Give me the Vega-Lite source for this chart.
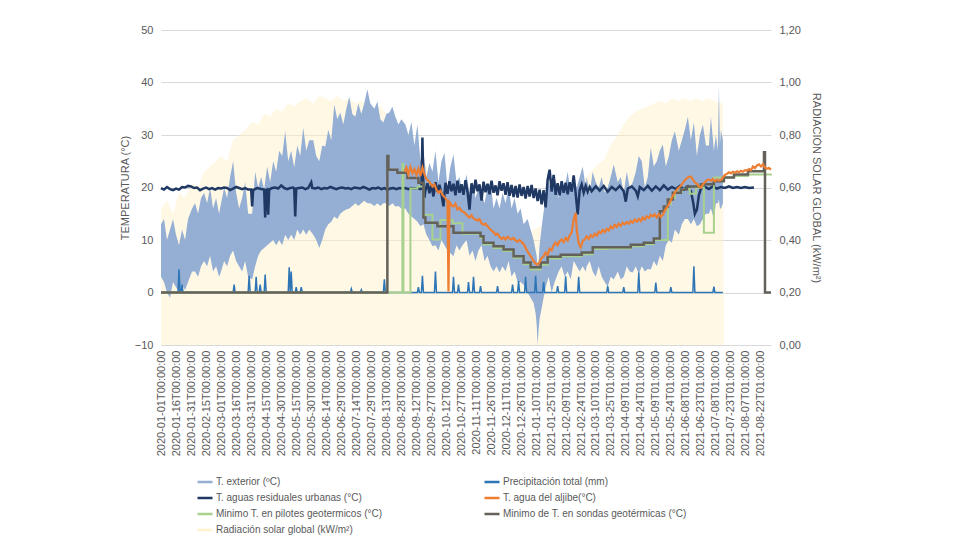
{
"$schema": "https://vega.github.io/schema/vega-lite/v6.json",
"width": 610, "height": 315,
"padding": {"left": 119, "top": 24, "right": 0, "bottom": 0},
"autosize": {"type": "pad"},
"background": "white",
"config": {
 "view": {"stroke": null},
 "font": "Liberation Sans",
 "axis": {"labelColor": "#595959", "titleColor": "#595959", "labelFontSize": 11, "titleFontSize": 11, "titleFontWeight": "normal", "domain": false, "ticks": false, "labelFont": "Liberation Sans", "titleFont": "Liberation Sans"},
 "legend": {"columns": 2, "symbolType": "stroke", "symbolSize": 225, "symbolStrokeWidth": 2.5, "labelFontSize": 10, "labelColor": "#595959", "labelFont": "Liberation Sans", "labelOffset": 2, "rowPadding": 2, "columnPadding": 96, "labelLimit": 400}
},
"datasets": {
 "rad": [
  {"d":"2020-01-01","v":0.52},{"d":"2020-01-07","v":0.55},{"d":"2020-01-13","v":0.5},{"d":"2020-01-19","v":0.58},{"d":"2020-01-25","v":0.56},
  {"d":"2020-02-01","v":0.62},{"d":"2020-02-07","v":0.6},{"d":"2020-02-13","v":0.66},{"d":"2020-02-19","v":0.68},{"d":"2020-02-25","v":0.7},
  {"d":"2020-03-01","v":0.72},{"d":"2020-03-07","v":0.7},{"d":"2020-03-13","v":0.78},{"d":"2020-03-19","v":0.8},{"d":"2020-03-25","v":0.82},
  {"d":"2020-04-01","v":0.85},{"d":"2020-04-07","v":0.84},{"d":"2020-04-13","v":0.88},{"d":"2020-04-19","v":0.87},{"d":"2020-04-25","v":0.9},
  {"d":"2020-05-01","v":0.89},{"d":"2020-05-07","v":0.92},{"d":"2020-05-13","v":0.91},{"d":"2020-05-19","v":0.93},{"d":"2020-05-25","v":0.94},
  {"d":"2020-06-01","v":0.92},{"d":"2020-06-07","v":0.95},{"d":"2020-06-13","v":0.94},{"d":"2020-06-19","v":0.93},{"d":"2020-06-25","v":0.95},
  {"d":"2020-07-01","v":0.93},{"d":"2020-07-07","v":0.94},{"d":"2020-07-13","v":0.92},{"d":"2020-07-19","v":0.93},{"d":"2020-07-25","v":0.92},
  {"d":"2020-08-01","v":0.9},{"d":"2020-08-07","v":0.91},{"d":"2020-08-13","v":0.88},{"d":"2020-08-19","v":0.84},{"d":"2020-08-25","v":0.8},
  {"d":"2020-09-01","v":0.76},{"d":"2020-09-07","v":0.74},{"d":"2020-09-13","v":0.72},{"d":"2020-09-19","v":0.7},{"d":"2020-09-25","v":0.66},
  {"d":"2020-10-01","v":0.64},{"d":"2020-10-07","v":0.6},{"d":"2020-10-13","v":0.58},{"d":"2020-10-19","v":0.56},{"d":"2020-10-25","v":0.55},
  {"d":"2020-11-01","v":0.52},{"d":"2020-11-07","v":0.5},{"d":"2020-11-13","v":0.48},{"d":"2020-11-19","v":0.47},{"d":"2020-11-25","v":0.46},
  {"d":"2020-12-01","v":0.45},{"d":"2020-12-07","v":0.44},{"d":"2020-12-13","v":0.43},{"d":"2020-12-19","v":0.42},{"d":"2020-12-25","v":0.42},
  {"d":"2021-01-01","v":0.43},{"d":"2021-01-07","v":0.44},{"d":"2021-01-13","v":0.45},{"d":"2021-01-19","v":0.47},{"d":"2021-01-25","v":0.5},
  {"d":"2021-02-01","v":0.52},{"d":"2021-02-07","v":0.54},{"d":"2021-02-13","v":0.57},{"d":"2021-02-19","v":0.59},{"d":"2021-02-25","v":0.62},
  {"d":"2021-03-01","v":0.64},{"d":"2021-03-07","v":0.67},{"d":"2021-03-13","v":0.69},{"d":"2021-03-19","v":0.71},{"d":"2021-03-25","v":0.76},
  {"d":"2021-04-01","v":0.8},{"d":"2021-04-07","v":0.84},{"d":"2021-04-13","v":0.87},{"d":"2021-04-19","v":0.89},{"d":"2021-04-25","v":0.9},
  {"d":"2021-05-01","v":0.91},{"d":"2021-05-07","v":0.92},{"d":"2021-05-13","v":0.93},{"d":"2021-05-19","v":0.92},{"d":"2021-05-25","v":0.94},
  {"d":"2021-06-01","v":0.93},{"d":"2021-06-07","v":0.94},{"d":"2021-06-13","v":0.93},{"d":"2021-06-19","v":0.94},{"d":"2021-06-25","v":0.93},
  {"d":"2021-07-01","v":0.94},{"d":"2021-07-07","v":0.93},{"d":"2021-07-15","v":0.92},{"d":"2021-07-16","v":0}
 ],
 "ext": [
  {"d":"2020-01-01","v":3,"v2":13},{"d":"2020-01-04","v":2,"v2":14},{"d":"2020-01-07","v":0,"v2":10},{"d":"2020-01-10","v":-1,"v2":12},{"d":"2020-01-13","v":2,"v2":14},{"d":"2020-01-16","v":1,"v2":11},{"d":"2020-01-19","v":0,"v2":9},{"d":"2020-01-22","v":1.5,"v2":12},{"d":"2020-01-25","v":0.5,"v2":10},{"d":"2020-01-28","v":2,"v2":14},
  {"d":"2020-02-01","v":4,"v2":16},{"d":"2020-02-04","v":4,"v2":17},{"d":"2020-02-07","v":3,"v2":15},{"d":"2020-02-10","v":5,"v2":18},{"d":"2020-02-13","v":6,"v2":19},{"d":"2020-02-16","v":5,"v2":17},{"d":"2020-02-19","v":7,"v2":20},{"d":"2020-02-22","v":4,"v2":16},{"d":"2020-02-25","v":5,"v2":18},{"d":"2020-02-28","v":3,"v2":15},
  {"d":"2020-03-01","v":4,"v2":17},{"d":"2020-03-04","v":6,"v2":20},{"d":"2020-03-07","v":5,"v2":18},{"d":"2020-03-10","v":7,"v2":22},{"d":"2020-03-13","v":8,"v2":25},{"d":"2020-03-16","v":6,"v2":19},{"d":"2020-03-19","v":5,"v2":16},{"d":"2020-03-22","v":4,"v2":18},{"d":"2020-03-25","v":6,"v2":21},{"d":"2020-03-28","v":3,"v2":15},
  {"d":"2020-04-01","v":2.5,"v2":15},{"d":"2020-04-04","v":5,"v2":23},{"d":"2020-04-07","v":7,"v2":20},{"d":"2020-04-10","v":8,"v2":22},{"d":"2020-04-13","v":8.5,"v2":19.6},{"d":"2020-04-16","v":9,"v2":24},{"d":"2020-04-19","v":9.5,"v2":21},{"d":"2020-04-22","v":10,"v2":25},{"d":"2020-04-25","v":9,"v2":23},{"d":"2020-04-28","v":10,"v2":27},
  {"d":"2020-05-01","v":9,"v2":26},{"d":"2020-05-04","v":11,"v2":30.7},{"d":"2020-05-07","v":10,"v2":25},{"d":"2020-05-10","v":11,"v2":27},{"d":"2020-05-13","v":10,"v2":23.8},{"d":"2020-05-16","v":12,"v2":28},{"d":"2020-05-19","v":11,"v2":26},{"d":"2020-05-22","v":12,"v2":31.4},{"d":"2020-05-25","v":11,"v2":27},{"d":"2020-05-28","v":12,"v2":29},
  {"d":"2020-06-01","v":11,"v2":29},{"d":"2020-06-04","v":10,"v2":26},{"d":"2020-06-07","v":8.5,"v2":25},{"d":"2020-06-10","v":10,"v2":28},{"d":"2020-06-13","v":12,"v2":27.8},{"d":"2020-06-16","v":13,"v2":31},{"d":"2020-06-19","v":13.5,"v2":29},{"d":"2020-06-22","v":14.5,"v2":35.8},{"d":"2020-06-25","v":14,"v2":33},{"d":"2020-06-28","v":15,"v2":34.3},
  {"d":"2020-07-01","v":15.5,"v2":32},{"d":"2020-07-04","v":15.8,"v2":35},{"d":"2020-07-07","v":16,"v2":37.3},{"d":"2020-07-10","v":16.5,"v2":34},{"d":"2020-07-13","v":17,"v2":33.5},{"d":"2020-07-16","v":16.5,"v2":36},{"d":"2020-07-19","v":17,"v2":34},{"d":"2020-07-22","v":17.5,"v2":36.1},{"d":"2020-07-25","v":17,"v2":38.7},{"d":"2020-07-28","v":17,"v2":36},
  {"d":"2020-08-01","v":16.5,"v2":35},{"d":"2020-08-04","v":17,"v2":36.4},{"d":"2020-08-07","v":16.5,"v2":33},{"d":"2020-08-10","v":17,"v2":32.4},{"d":"2020-08-13","v":17,"v2":34},{"d":"2020-08-16","v":16.5,"v2":34.3},{"d":"2020-08-19","v":17,"v2":35.4},{"d":"2020-08-22","v":16.4,"v2":33.5},{"d":"2020-08-25","v":16.5,"v2":32},{"d":"2020-08-28","v":16,"v2":33},
  {"d":"2020-09-01","v":16,"v2":32},{"d":"2020-09-04","v":15,"v2":30},{"d":"2020-09-07","v":14.5,"v2":32.5},{"d":"2020-09-10","v":14,"v2":28},{"d":"2020-09-13","v":13.5,"v2":32},{"d":"2020-09-16","v":12.6,"v2":25},{"d":"2020-09-19","v":13,"v2":27},{"d":"2020-09-22","v":11,"v2":22},{"d":"2020-09-25","v":10,"v2":24.7},{"d":"2020-09-28","v":8.8,"v2":23},
  {"d":"2020-10-01","v":9,"v2":27},{"d":"2020-10-04","v":8,"v2":21},{"d":"2020-10-07","v":10,"v2":25},{"d":"2020-10-10","v":9,"v2":26.6},{"d":"2020-10-13","v":8,"v2":20},{"d":"2020-10-16","v":7.5,"v2":24},{"d":"2020-10-19","v":6.9,"v2":26.3},{"d":"2020-10-22","v":9,"v2":21},{"d":"2020-10-25","v":8,"v2":22},{"d":"2020-10-28","v":9,"v2":19},
  {"d":"2020-11-01","v":10,"v2":22.5},{"d":"2020-11-04","v":7,"v2":19},{"d":"2020-11-07","v":8,"v2":21},{"d":"2020-11-10","v":6,"v2":18},{"d":"2020-11-13","v":8,"v2":20},{"d":"2020-11-16","v":9,"v2":19},{"d":"2020-11-19","v":6,"v2":17},{"d":"2020-11-22","v":7,"v2":20},{"d":"2020-11-25","v":5,"v2":21},{"d":"2020-11-28","v":4,"v2":16},
  {"d":"2020-12-01","v":5,"v2":18},{"d":"2020-12-04","v":3.8,"v2":16},{"d":"2020-12-07","v":5,"v2":19},{"d":"2020-12-10","v":4,"v2":17},{"d":"2020-12-13","v":6,"v2":20},{"d":"2020-12-16","v":3,"v2":16},{"d":"2020-12-19","v":4,"v2":18},{"d":"2020-12-22","v":2,"v2":15},{"d":"2020-12-25","v":2,"v2":16},{"d":"2020-12-28","v":1.5,"v2":13},
  {"d":"2021-01-01","v":0,"v2":14},{"d":"2021-01-04","v":-1,"v2":12},{"d":"2021-01-07","v":-2,"v2":10},{"d":"2021-01-09","v":-4,"v2":8},{"d":"2021-01-10","v":-6,"v2":7},{"d":"2021-01-11","v":-10,"v2":5},{"d":"2021-01-12","v":-7,"v2":6},{"d":"2021-01-13","v":-5,"v2":9},{"d":"2021-01-16","v":-2,"v2":14},{"d":"2021-01-19","v":1,"v2":18},{"d":"2021-01-22","v":3,"v2":21},{"d":"2021-01-25","v":0,"v2":19},{"d":"2021-01-28","v":2,"v2":22},
  {"d":"2021-02-01","v":4,"v2":18},{"d":"2021-02-04","v":5,"v2":21},{"d":"2021-02-07","v":3,"v2":20},{"d":"2021-02-10","v":4,"v2":23},{"d":"2021-02-13","v":2.5,"v2":19},{"d":"2021-02-16","v":6,"v2":21},{"d":"2021-02-19","v":5,"v2":20},{"d":"2021-02-22","v":4,"v2":22},{"d":"2021-02-25","v":5,"v2":24},{"d":"2021-02-28","v":4,"v2":20},
  {"d":"2021-03-01","v":5,"v2":22},{"d":"2021-03-04","v":6,"v2":19},{"d":"2021-03-07","v":4,"v2":23},{"d":"2021-03-10","v":3,"v2":21},{"d":"2021-03-13","v":5,"v2":20},{"d":"2021-03-16","v":3,"v2":22},{"d":"2021-03-19","v":2,"v2":19},{"d":"2021-03-22","v":1.1,"v2":20},{"d":"2021-03-25","v":3,"v2":22},{"d":"2021-03-28","v":2.5,"v2":24.4},
  {"d":"2021-04-01","v":4,"v2":21},{"d":"2021-04-04","v":2.5,"v2":22},{"d":"2021-04-07","v":3,"v2":19},{"d":"2021-04-10","v":5,"v2":23},{"d":"2021-04-13","v":4,"v2":20},{"d":"2021-04-16","v":3.8,"v2":21},{"d":"2021-04-19","v":5,"v2":23},{"d":"2021-04-22","v":3.5,"v2":26},{"d":"2021-04-25","v":5,"v2":25},{"d":"2021-04-28","v":4,"v2":20},
  {"d":"2021-05-01","v":4.5,"v2":22},{"d":"2021-05-04","v":4.4,"v2":27.6},{"d":"2021-05-07","v":6,"v2":24},{"d":"2021-05-10","v":5,"v2":25},{"d":"2021-05-13","v":7,"v2":27},{"d":"2021-05-16","v":6,"v2":28.2},{"d":"2021-05-19","v":9,"v2":24},{"d":"2021-05-22","v":10,"v2":26},{"d":"2021-05-25","v":9.5,"v2":29},{"d":"2021-05-28","v":12,"v2":30.7},
  {"d":"2021-06-01","v":11,"v2":27},{"d":"2021-06-04","v":13,"v2":29},{"d":"2021-06-07","v":14,"v2":31},{"d":"2021-06-10","v":14,"v2":33.5},{"d":"2021-06-13","v":13,"v2":29},{"d":"2021-06-16","v":14,"v2":32.4},{"d":"2021-06-19","v":12.6,"v2":26},{"d":"2021-06-22","v":13,"v2":30},{"d":"2021-06-25","v":14,"v2":32},{"d":"2021-06-28","v":15,"v2":28},
  {"d":"2021-07-01","v":15,"v2":28},{"d":"2021-07-03","v":16,"v2":33.5},{"d":"2021-07-06","v":14,"v2":27},{"d":"2021-07-08","v":17,"v2":30},{"d":"2021-07-10","v":17,"v2":27},{"d":"2021-07-11","v":17.7,"v2":39.6},{"d":"2021-07-12","v":16,"v2":28},{"d":"2021-07-13","v":16,"v2":31},{"d":"2021-07-15","v":17,"v2":29}
 ],
 "precip": [
  {"d":"2020-01-01","v":0},{"d":"2020-01-18","v":0},{"d":"2020-01-19","v":4.4},{"d":"2020-01-20","v":0},{"d":"2020-01-21","v":0},{"d":"2020-01-22","v":1.5},{"d":"2020-01-23","v":0},
  {"d":"2020-03-13","v":0},{"d":"2020-03-14","v":1.5},{"d":"2020-03-15","v":0},{"d":"2020-03-28","v":0},{"d":"2020-03-29","v":3.2},{"d":"2020-03-30","v":0},
  {"d":"2020-04-04","v":0},{"d":"2020-04-05","v":3},{"d":"2020-04-06","v":0},{"d":"2020-04-08","v":0},{"d":"2020-04-09","v":1.5},{"d":"2020-04-10","v":0},{"d":"2020-04-13","v":0},{"d":"2020-04-14","v":3.4},{"d":"2020-04-15","v":0},
  {"d":"2020-05-07","v":0},{"d":"2020-05-08","v":4.8},{"d":"2020-05-09","v":0},{"d":"2020-05-10","v":4},{"d":"2020-05-11","v":0},{"d":"2020-05-14","v":0},{"d":"2020-05-15","v":1},{"d":"2020-05-16","v":0},{"d":"2020-05-19","v":0},{"d":"2020-05-20","v":1},{"d":"2020-05-21","v":0},
  {"d":"2020-07-08","v":0},{"d":"2020-07-09","v":0.7},{"d":"2020-07-10","v":0},{"d":"2020-07-18","v":0},{"d":"2020-07-19","v":0.5},{"d":"2020-07-20","v":0},
  {"d":"2020-08-10","v":0},{"d":"2020-08-11","v":2.5},{"d":"2020-08-12","v":0},
  {"d":"2020-09-13","v":0},{"d":"2020-09-14","v":1},{"d":"2020-09-15","v":0},{"d":"2020-09-17","v":0},{"d":"2020-09-18","v":3.2},{"d":"2020-09-19","v":0},
  {"d":"2020-09-30","v":0},{"d":"2020-10-01","v":4},{"d":"2020-10-02","v":0},{"d":"2020-10-18","v":0},{"d":"2020-10-19","v":3},{"d":"2020-10-20","v":0},{"d":"2020-10-23","v":0},{"d":"2020-10-24","v":1.5},{"d":"2020-10-25","v":0},
  {"d":"2020-11-02","v":0},{"d":"2020-11-03","v":2},{"d":"2020-11-04","v":0},{"d":"2020-11-07","v":0},{"d":"2020-11-08","v":3},{"d":"2020-11-09","v":0},{"d":"2020-11-14","v":0},{"d":"2020-11-15","v":1.2},{"d":"2020-11-16","v":0},
  {"d":"2020-12-01","v":0},{"d":"2020-12-02","v":1.2},{"d":"2020-12-03","v":0},{"d":"2020-12-16","v":0},{"d":"2020-12-17","v":1.5},{"d":"2020-12-18","v":0},{"d":"2020-12-22","v":0},{"d":"2020-12-23","v":2.2},{"d":"2020-12-24","v":0},{"d":"2020-12-29","v":0},{"d":"2020-12-30","v":3},{"d":"2020-12-31","v":0},
  {"d":"2021-01-08","v":0},{"d":"2021-01-09","v":3.2},{"d":"2021-01-10","v":0},{"d":"2021-01-16","v":0},{"d":"2021-01-17","v":2},{"d":"2021-01-18","v":0},{"d":"2021-01-30","v":0},{"d":"2021-01-31","v":1.2},{"d":"2021-02-01","v":0},
  {"d":"2021-02-07","v":0},{"d":"2021-02-08","v":3.1},{"d":"2021-02-09","v":0},{"d":"2021-02-20","v":0},{"d":"2021-02-21","v":3},{"d":"2021-02-22","v":0},
  {"d":"2021-03-21","v":0},{"d":"2021-03-22","v":1.2},{"d":"2021-03-23","v":0},{"d":"2021-04-06","v":0},{"d":"2021-04-07","v":1},{"d":"2021-04-08","v":0},{"d":"2021-04-21","v":0},{"d":"2021-04-22","v":3.8},{"d":"2021-04-23","v":0},
  {"d":"2021-05-08","v":0},{"d":"2021-05-09","v":1.9},{"d":"2021-05-10","v":0},{"d":"2021-05-23","v":0},{"d":"2021-05-24","v":1},{"d":"2021-05-25","v":0},
  {"d":"2021-06-15","v":0},{"d":"2021-06-16","v":5},{"d":"2021-06-17","v":0},{"d":"2021-07-05","v":0},{"d":"2021-07-06","v":1.1},{"d":"2021-07-07","v":0},{"d":"2021-07-15","v":0}
 ],
 "navy": [
  {"d":"2020-01-01","v":19.9},{"d":"2020-01-04","v":19.6},{"d":"2020-01-07","v":20.1},{"d":"2020-01-10","v":19.7},{"d":"2020-01-13","v":19.5},{"d":"2020-01-16","v":19.8},{"d":"2020-01-19","v":19.6},{"d":"2020-01-22","v":20.1},{"d":"2020-01-25","v":20.0},{"d":"2020-01-28","v":20.3},{"d":"2020-01-31","v":20.2},
  {"d":"2020-02-03","v":19.9},{"d":"2020-02-06","v":20.0},{"d":"2020-02-09","v":19.5},{"d":"2020-02-12","v":19.8},{"d":"2020-02-15","v":20.0},{"d":"2020-02-18","v":19.7},{"d":"2020-02-21","v":19.9},{"d":"2020-02-24","v":19.6},{"d":"2020-02-27","v":19.9},
  {"d":"2020-03-01","v":19.8},{"d":"2020-03-04","v":20.0},{"d":"2020-03-07","v":19.9},{"d":"2020-03-10","v":19.5},{"d":"2020-03-13","v":19.8},{"d":"2020-03-16","v":20.1},{"d":"2020-03-19","v":19.9},{"d":"2020-03-22","v":19.7},{"d":"2020-03-25","v":19.9},{"d":"2020-03-28","v":19.6},{"d":"2020-03-31","v":19.6},
  {"d":"2020-04-01","v":16.4},{"d":"2020-04-02","v":19.5},{"d":"2020-04-06","v":19.9},{"d":"2020-04-10","v":19.7},{"d":"2020-04-13","v":19.6},{"d":"2020-04-14","v":14.3},{"d":"2020-04-15","v":19.5},{"d":"2020-04-16","v":19.6},{"d":"2020-04-17","v":14.8},{"d":"2020-04-18","v":19.6},{"d":"2020-04-21","v":19.9},{"d":"2020-04-24","v":20.0},{"d":"2020-04-27","v":19.8},{"d":"2020-04-30","v":20.4},
  {"d":"2020-05-03","v":19.9},{"d":"2020-05-06","v":19.7},{"d":"2020-05-09","v":19.9},{"d":"2020-05-12","v":20.0},{"d":"2020-05-13","v":19.8},{"d":"2020-05-14","v":14.5},{"d":"2020-05-15","v":19.8},{"d":"2020-05-18","v":19.9},{"d":"2020-05-21","v":20.0},{"d":"2020-05-24","v":19.7},{"d":"2020-05-27","v":19.9},{"d":"2020-05-30","v":21.0},{"d":"2020-05-31","v":19.9},
  {"d":"2020-06-03","v":19.8},{"d":"2020-06-06","v":20.0},{"d":"2020-06-09","v":19.7},{"d":"2020-06-12","v":19.9},{"d":"2020-06-15","v":19.8},{"d":"2020-06-18","v":20.1},{"d":"2020-06-21","v":19.9},{"d":"2020-06-24","v":19.7},{"d":"2020-06-27","v":19.9},{"d":"2020-06-30","v":20.0},
  {"d":"2020-07-03","v":19.8},{"d":"2020-07-06","v":19.9},{"d":"2020-07-09","v":19.7},{"d":"2020-07-12","v":20.0},{"d":"2020-07-15","v":19.9},{"d":"2020-07-18","v":19.8},{"d":"2020-07-21","v":20.1},{"d":"2020-07-24","v":19.9},{"d":"2020-07-27","v":19.6},{"d":"2020-07-30","v":19.9},
  {"d":"2020-08-02","v":19.8},{"d":"2020-08-05","v":20.0},{"d":"2020-08-08","v":19.7},{"d":"2020-08-11","v":19.9},{"d":"2020-08-14","v":19.6},{"d":"2020-08-17","v":19.8},{"d":"2020-08-20","v":19.9},{"d":"2020-08-23","v":19.7},{"d":"2020-08-26","v":19.9},{"d":"2020-08-29","v":19.8},
  {"d":"2020-09-01","v":19.9},{"d":"2020-09-04","v":19.7},{"d":"2020-09-07","v":19.9},{"d":"2020-09-10","v":19.8},{"d":"2020-09-13","v":19.9},{"d":"2020-09-16","v":19.7},{"d":"2020-09-17","v":19.8},{"d":"2020-09-18","v":29.5},{"d":"2020-09-19","v":19.6},{"d":"2020-09-20","v":18.1},
  {"d":"2020-09-21","v":19.5},{"d":"2020-09-23","v":20.8},{"d":"2020-09-25","v":18.9},{"d":"2020-09-27","v":20.6},{"d":"2020-09-29","v":18.3},{"d":"2020-10-01","v":21},{"d":"2020-10-03","v":19.2},{"d":"2020-10-05","v":20.5},{"d":"2020-10-07","v":18.7},{"d":"2020-10-09","v":16.4},{"d":"2020-10-11","v":20.9},{"d":"2020-10-13","v":18.8},{"d":"2020-10-15","v":21.2},{"d":"2020-10-17","v":19.3},{"d":"2020-10-19","v":20.7},{"d":"2020-10-21","v":18.5},{"d":"2020-10-23","v":21.3},{"d":"2020-10-25","v":19},{"d":"2020-10-27","v":20.6},{"d":"2020-10-29","v":18.6},{"d":"2020-10-31","v":21.4},
  {"d":"2020-11-02","v":19.2},{"d":"2020-11-04","v":15.8},{"d":"2020-11-06","v":20.8},{"d":"2020-11-08","v":18.9},{"d":"2020-11-10","v":21.5},{"d":"2020-11-12","v":19.3},{"d":"2020-11-14","v":20.6},{"d":"2020-11-16","v":17.5},{"d":"2020-11-18","v":21.1},{"d":"2020-11-20","v":19.1},{"d":"2020-11-22","v":20.7},{"d":"2020-11-24","v":18.7},{"d":"2020-11-26","v":21.3},{"d":"2020-11-28","v":19},{"d":"2020-11-30","v":20.4},
  {"d":"2020-12-02","v":18.5},{"d":"2020-12-04","v":21.2},{"d":"2020-12-06","v":19.4},{"d":"2020-12-08","v":20.8},{"d":"2020-12-10","v":18.6},{"d":"2020-12-12","v":21},{"d":"2020-12-14","v":18.4},{"d":"2020-12-16","v":20.5},{"d":"2020-12-18","v":18.2},{"d":"2020-12-20","v":20.3},{"d":"2020-12-22","v":18.1},{"d":"2020-12-24","v":20.6},{"d":"2020-12-26","v":18.4},{"d":"2020-12-28","v":20.1},{"d":"2020-12-30","v":17.9},
  {"d":"2021-01-01","v":20.3},{"d":"2021-01-03","v":18.3},{"d":"2021-01-05","v":20.5},{"d":"2021-01-07","v":18.0},{"d":"2021-01-09","v":19.8},{"d":"2021-01-11","v":17.4},{"d":"2021-01-13","v":19.6},{"d":"2021-01-15","v":16.8},{"d":"2021-01-17","v":19.5},{"d":"2021-01-19","v":16.2},{"d":"2021-01-21","v":21.5},{"d":"2021-01-23","v":23.4},{"d":"2021-01-25","v":19.2},{"d":"2021-01-27","v":22.4},{"d":"2021-01-29","v":18.6},{"d":"2021-01-31","v":20.8},
  {"d":"2021-02-02","v":18.5},{"d":"2021-02-04","v":21.2},{"d":"2021-02-06","v":19.0},{"d":"2021-02-08","v":20.9},{"d":"2021-02-10","v":18.7},{"d":"2021-02-12","v":21.0},{"d":"2021-02-14","v":19.2},{"d":"2021-02-16","v":22.3},{"d":"2021-02-18","v":18.9},{"d":"2021-02-20","v":14.9},{"d":"2021-02-22","v":19.5},{"d":"2021-02-24","v":20.6},{"d":"2021-02-26","v":19.0},{"d":"2021-02-28","v":20.3},
  {"d":"2021-03-02","v":19.2},{"d":"2021-03-04","v":20.1},{"d":"2021-03-06","v":19.3},{"d":"2021-03-10","v":20.2},{"d":"2021-03-14","v":19.4},{"d":"2021-03-18","v":20.3},{"d":"2021-03-22","v":19.2},{"d":"2021-03-26","v":20.1},{"d":"2021-03-30","v":19.5},
  {"d":"2021-04-03","v":20.3},{"d":"2021-04-07","v":19.3},{"d":"2021-04-09","v":17.3},{"d":"2021-04-11","v":19.8},{"d":"2021-04-15","v":20.2},{"d":"2021-04-19","v":19.4},{"d":"2021-04-21","v":18.3},{"d":"2021-04-23","v":20.1},{"d":"2021-04-27","v":19.5},
  {"d":"2021-05-01","v":20.3},{"d":"2021-05-05","v":19.4},{"d":"2021-05-09","v":20.2},{"d":"2021-05-13","v":19.5},{"d":"2021-05-17","v":20.4},{"d":"2021-05-21","v":19.6},{"d":"2021-05-25","v":20.1},{"d":"2021-05-29","v":19.7},
  {"d":"2021-06-02","v":20.3},{"d":"2021-06-06","v":19.6},{"d":"2021-06-10","v":20.2},{"d":"2021-06-13","v":19.3},{"d":"2021-06-15","v":17.5},{"d":"2021-06-17","v":15.0},{"d":"2021-06-19","v":15.8},{"d":"2021-06-21","v":18.5},{"d":"2021-06-23","v":19.8},{"d":"2021-06-27","v":20.1},
  {"d":"2021-07-01","v":19.7},{"d":"2021-07-05","v":20.2},{"d":"2021-07-09","v":19.8},{"d":"2021-07-13","v":20.1},{"d":"2021-07-17","v":19.9},{"d":"2021-07-21","v":20.2},{"d":"2021-07-25","v":19.9},{"d":"2021-07-29","v":20.1},{"d":"2021-08-02","v":19.9},{"d":"2021-08-06","v":20.1},{"d":"2021-08-10","v":19.9},{"d":"2021-08-15","v":20.0}
 ],
 "green": [
  {"d":"2020-01-01","v":0},{"d":"2020-08-29","v":24.5},{"d":"2020-08-30","v":0},{"d":"2020-09-06","v":19.8},{"d":"2020-09-13","v":20.2},{"d":"2020-09-19","v":14.8},{"d":"2020-09-28","v":10.1},{"d":"2020-10-06","v":13.8},{"d":"2020-10-18","v":13.2},{"d":"2020-10-28","v":11.2},{"d":"2020-11-15","v":10.4},{"d":"2020-11-18","v":9.2},{"d":"2020-11-28","v":8.5},{"d":"2020-12-08","v":7.9},{"d":"2020-12-18","v":6.6},{"d":"2020-12-28","v":5.4},
  {"d":"2021-01-04","v":4.4},{"d":"2021-01-14","v":5.3},{"d":"2021-01-21","v":6.5},{"d":"2021-02-03","v":6.9},{"d":"2021-02-24","v":7.3},{"d":"2021-03-07","v":8.3},{"d":"2021-03-22","v":8.4},{"d":"2021-04-14","v":8.8},{"d":"2021-04-27","v":9.2},{"d":"2021-05-07","v":10.0},{"d":"2021-05-21","v":16.8},{"d":"2021-05-24","v":18.0},{"d":"2021-05-28","v":19.2},{"d":"2021-06-04","v":19.7},{"d":"2021-06-12","v":18.8},{"d":"2021-06-18","v":20.0},{"d":"2021-06-26","v":11.4},{"d":"2021-07-06","v":21.9},{"d":"2021-07-26","v":22.2},{"d":"2021-08-09","v":22.5},{"d":"2021-09-01","v":22.6}
 ],
 "gray": [
  {"d":"2020-01-01","v":0},{"d":"2020-08-14","v":26.0},{"d":"2020-08-15","v":23.4},{"d":"2020-08-24","v":22.8},{"d":"2020-09-03","v":21.8},{"d":"2020-09-14","v":20.9},{"d":"2020-09-19","v":14.3},{"d":"2020-09-21","v":13.3},{"d":"2020-10-03","v":12.6},{"d":"2020-10-19","v":11.4},{"d":"2020-11-15","v":10.7},{"d":"2020-11-18","v":9.5},{"d":"2020-11-28","v":8.8},{"d":"2020-12-08","v":8.2},{"d":"2020-12-18","v":6.9},{"d":"2020-12-28","v":5.7},
  {"d":"2021-01-04","v":4.8},{"d":"2021-01-14","v":5.7},{"d":"2021-01-21","v":6.8},{"d":"2021-02-03","v":7.2},{"d":"2021-02-24","v":7.6},{"d":"2021-03-07","v":8.6},{"d":"2021-04-14","v":9.1},{"d":"2021-04-27","v":9.5},{"d":"2021-05-07","v":10.3},{"d":"2021-05-13","v":15.5},{"d":"2021-05-17","v":16.4},{"d":"2021-05-21","v":17.7},{"d":"2021-05-26","v":19.0},{"d":"2021-06-03","v":19.6},{"d":"2021-06-09","v":20.2},{"d":"2021-06-23","v":20.6},{"d":"2021-07-06","v":21.2},{"d":"2021-07-16","v":21.9},{"d":"2021-07-26","v":22.5},{"d":"2021-08-09","v":23.1},{"d":"2021-08-25","v":26.7},{"d":"2021-08-26","v":0},{"d":"2021-09-01","v":0}
 ],
 "orange": [
  {"d":"2020-08-31","v":23.0},{"d":"2020-09-02","v":23.8},{"d":"2020-09-04","v":22.5},{"d":"2020-09-06","v":23.9},{"d":"2020-09-08","v":22.7},{"d":"2020-09-10","v":23.5},{"d":"2020-09-12","v":22.4},{"d":"2020-09-14","v":23.6},{"d":"2020-09-16","v":22.2},{"d":"2020-09-18","v":23.8},{"d":"2020-09-20","v":22.5},{"d":"2020-09-22","v":21.6},{"d":"2020-09-24","v":21.3},{"d":"2020-09-26","v":20.8},{"d":"2020-09-28","v":20.2},{"d":"2020-09-30","v":20.6},
  {"d":"2020-10-02","v":19.6},{"d":"2020-10-04","v":19.0},{"d":"2020-10-06","v":19.4},{"d":"2020-10-08","v":18.6},{"d":"2020-10-10","v":18.2},{"d":"2020-10-12","v":17.7},{"d":"2020-10-13","v":17.4},{"d":"2020-10-14","v":0.2},{"d":"2020-10-15","v":17.2},{"d":"2020-10-17","v":16.6},{"d":"2020-10-19","v":16.4},{"d":"2020-10-21","v":16.9},{"d":"2020-10-23","v":15.8},{"d":"2020-10-25","v":16.1},{"d":"2020-10-27","v":15.5},{"d":"2020-10-29","v":15.4},{"d":"2020-10-31","v":15.0},
  {"d":"2020-11-02","v":14.6},{"d":"2020-11-04","v":14.3},{"d":"2020-11-06","v":14.7},{"d":"2020-11-08","v":14.1},{"d":"2020-11-10","v":13.9},{"d":"2020-11-12","v":13.7},{"d":"2020-11-14","v":14.0},{"d":"2020-11-16","v":13.2},{"d":"2020-11-18","v":12.9},{"d":"2020-11-20","v":13.1},{"d":"2020-11-22","v":12.6},{"d":"2020-11-24","v":12.2},{"d":"2020-11-26","v":11.8},{"d":"2020-11-28","v":11.5},{"d":"2020-11-30","v":11.0},
  {"d":"2020-12-02","v":11.2},{"d":"2020-12-04","v":10.6},{"d":"2020-12-06","v":10.2},{"d":"2020-12-08","v":10.5},{"d":"2020-12-10","v":10.1},{"d":"2020-12-12","v":10.6},{"d":"2020-12-14","v":10.3},{"d":"2020-12-16","v":10.1},{"d":"2020-12-18","v":10.4},{"d":"2020-12-20","v":9.9},{"d":"2020-12-22","v":9.7},{"d":"2020-12-24","v":10.0},{"d":"2020-12-26","v":9.6},{"d":"2020-12-28","v":9.2},{"d":"2020-12-30","v":8.5},
  {"d":"2021-01-01","v":7.8},{"d":"2021-01-03","v":7.2},{"d":"2021-01-05","v":6.6},{"d":"2021-01-07","v":6.0},{"d":"2021-01-09","v":5.5},{"d":"2021-01-11","v":5.3},{"d":"2021-01-13","v":5.8},{"d":"2021-01-15","v":6.6},{"d":"2021-01-17","v":6.9},{"d":"2021-01-19","v":7.6},{"d":"2021-01-21","v":7.2},{"d":"2021-01-23","v":8.3},{"d":"2021-01-25","v":8.0},{"d":"2021-01-27","v":9.0},{"d":"2021-01-29","v":9.5},{"d":"2021-01-31","v":9.0},
  {"d":"2021-02-02","v":9.8},{"d":"2021-02-04","v":10.1},{"d":"2021-02-06","v":9.6},{"d":"2021-02-08","v":10.4},{"d":"2021-02-10","v":9.9},{"d":"2021-02-12","v":10.8},{"d":"2021-02-14","v":11.5},{"d":"2021-02-16","v":13.9},{"d":"2021-02-18","v":15.2},{"d":"2021-02-19","v":12.0},{"d":"2021-02-21","v":9.4},{"d":"2021-02-23","v":8.6},{"d":"2021-02-25","v":9.8},{"d":"2021-02-27","v":10.1},
  {"d":"2021-03-01","v":10.7},{"d":"2021-03-03","v":10.2},{"d":"2021-03-05","v":10.9},{"d":"2021-03-07","v":10.6},{"d":"2021-03-09","v":11.2},{"d":"2021-03-11","v":10.8},{"d":"2021-03-13","v":11.6},{"d":"2021-03-15","v":11.3},{"d":"2021-03-17","v":11.9},{"d":"2021-03-19","v":11.5},{"d":"2021-03-21","v":12.1},{"d":"2021-03-23","v":11.8},{"d":"2021-03-25","v":12.6},{"d":"2021-03-27","v":12.2},{"d":"2021-03-29","v":12.9},{"d":"2021-03-31","v":12.5},
  {"d":"2021-04-02","v":13.1},{"d":"2021-04-04","v":12.7},{"d":"2021-04-06","v":13.3},{"d":"2021-04-08","v":13.0},{"d":"2021-04-10","v":13.4},{"d":"2021-04-12","v":13.1},{"d":"2021-04-14","v":13.6},{"d":"2021-04-16","v":13.3},{"d":"2021-04-18","v":13.9},{"d":"2021-04-20","v":13.5},{"d":"2021-04-22","v":14.0},{"d":"2021-04-24","v":13.6},{"d":"2021-04-26","v":14.3},{"d":"2021-04-28","v":13.9},{"d":"2021-04-30","v":14.5},
  {"d":"2021-05-02","v":14.2},{"d":"2021-05-04","v":14.8},{"d":"2021-05-06","v":14.5},{"d":"2021-05-08","v":14.9},{"d":"2021-05-10","v":14.3},{"d":"2021-05-12","v":14.9},{"d":"2021-05-14","v":14.4},{"d":"2021-05-16","v":14.8},{"d":"2021-05-18","v":15.6},{"d":"2021-05-20","v":16.2},{"d":"2021-05-22","v":16.8},{"d":"2021-05-24","v":17.6},{"d":"2021-05-26","v":18.4},{"d":"2021-05-28","v":19.0},{"d":"2021-05-30","v":19.6},
  {"d":"2021-06-01","v":20.0},{"d":"2021-06-03","v":20.3},{"d":"2021-06-05","v":20.9},{"d":"2021-06-07","v":21.4},{"d":"2021-06-09","v":21.8},{"d":"2021-06-11","v":22.0},{"d":"2021-06-13","v":22.1},{"d":"2021-06-15","v":21.5},{"d":"2021-06-17","v":21.0},{"d":"2021-06-19","v":20.7},{"d":"2021-06-21","v":20.2},{"d":"2021-06-23","v":20.0},{"d":"2021-06-25","v":20.6},{"d":"2021-06-27","v":21.0},{"d":"2021-06-29","v":21.4},
  {"d":"2021-07-01","v":21.5},{"d":"2021-07-03","v":21.3},{"d":"2021-07-05","v":21.6},{"d":"2021-07-07","v":21.2},{"d":"2021-07-09","v":21.5},{"d":"2021-07-11","v":21.3},{"d":"2021-07-13","v":21.4},{"d":"2021-07-15","v":21.9},{"d":"2021-07-17","v":22.4},{"d":"2021-07-19","v":22.6},{"d":"2021-07-21","v":22.9},{"d":"2021-07-23","v":22.7},{"d":"2021-07-25","v":23.0},{"d":"2021-07-27","v":22.8},{"d":"2021-07-29","v":23.1},{"d":"2021-07-31","v":22.9},
  {"d":"2021-08-02","v":23.2},{"d":"2021-08-04","v":23.0},{"d":"2021-08-06","v":23.3},{"d":"2021-08-08","v":23.2},{"d":"2021-08-10","v":23.5},{"d":"2021-08-12","v":23.3},{"d":"2021-08-14","v":24.0},{"d":"2021-08-16","v":23.7},{"d":"2021-08-18","v":24.2},{"d":"2021-08-20","v":24.4},{"d":"2021-08-22","v":24.0},{"d":"2021-08-24","v":24.4},{"d":"2021-08-26","v":23.8},{"d":"2021-08-28","v":23.6},{"d":"2021-08-30","v":23.7},{"d":"2021-09-01","v":23.4}
 ]
},
"encoding": {
 "x": {"field": "d", "type": "temporal",
  "scale": {"domain": [{"year":2020,"month":1,"date":1,"utc":true},{"year":2021,"month":9,"date":1,"utc":true}]},
  "axis": {"title": null, "grid": false, "labelAngle": 270, "labelPadding": 5, "labelFontSize": 11, "labelOverlap": false, "labelBound": false,
   "labelExpr": "utcFormat(datum.value, '%Y-%m-%d') + (datum.value >= utc(2020, 11, 5) ? 'T01:00:00' : 'T00:00:00')",
   "values": [
    {"year":2020,"month":1,"date":1,"utc":true},{"year":2020,"month":1,"date":16,"utc":true},{"year":2020,"month":1,"date":31,"utc":true},{"year":2020,"month":2,"date":15,"utc":true},{"year":2020,"month":3,"date":1,"utc":true},{"year":2020,"month":3,"date":16,"utc":true},{"year":2020,"month":3,"date":31,"utc":true},{"year":2020,"month":4,"date":15,"utc":true},{"year":2020,"month":4,"date":30,"utc":true},{"year":2020,"month":5,"date":15,"utc":true},{"year":2020,"month":5,"date":30,"utc":true},{"year":2020,"month":6,"date":14,"utc":true},{"year":2020,"month":6,"date":29,"utc":true},{"year":2020,"month":7,"date":14,"utc":true},{"year":2020,"month":7,"date":29,"utc":true},{"year":2020,"month":8,"date":13,"utc":true},{"year":2020,"month":8,"date":28,"utc":true},{"year":2020,"month":9,"date":12,"utc":true},{"year":2020,"month":9,"date":27,"utc":true},{"year":2020,"month":10,"date":12,"utc":true},{"year":2020,"month":10,"date":27,"utc":true},{"year":2020,"month":11,"date":11,"utc":true},{"year":2020,"month":11,"date":26,"utc":true},{"year":2020,"month":12,"date":11,"utc":true},{"year":2020,"month":12,"date":26,"utc":true},
    {"year":2021,"month":1,"date":10,"utc":true},{"year":2021,"month":1,"date":25,"utc":true},{"year":2021,"month":2,"date":9,"utc":true},{"year":2021,"month":2,"date":24,"utc":true},{"year":2021,"month":3,"date":10,"utc":true},{"year":2021,"month":3,"date":25,"utc":true},{"year":2021,"month":4,"date":9,"utc":true},{"year":2021,"month":4,"date":24,"utc":true},{"year":2021,"month":5,"date":9,"utc":true},{"year":2021,"month":5,"date":24,"utc":true},{"year":2021,"month":6,"date":8,"utc":true},{"year":2021,"month":6,"date":23,"utc":true},{"year":2021,"month":7,"date":8,"utc":true},{"year":2021,"month":7,"date":23,"utc":true},{"year":2021,"month":8,"date":7,"utc":true},{"year":2021,"month":8,"date":22,"utc":true}
   ]}
 }
},
"layer": [
 {"data": {"name": "rad"},
  "mark": {"type": "area", "color": "#FFF2CC", "opacity": 0.5},
  "encoding": {
   "y": {"field": "v", "type": "quantitative", "scale": {"domain": [0, 1.2], "nice": false, "zero": true},
    "axis": {"orient": "right", "values": [0, 0.2, 0.4, 0.6, 0.8, 1.0, 1.2], "labelExpr": "replace(format(datum.value, '.2f'), '.', ',')", "title": "RADIACIÓN SOLAR GLOBAL (kW/m²)", "grid": false, "labelPadding": 8, "titlePadding": 10}}
  }},
 {"encoding": {
   "y": {"field": "v", "type": "quantitative", "scale": {"domain": [-10, 50], "nice": false},
    "axis": {"orient": "left", "values": [-10, 0, 10, 20, 30, 40, 50], "title": "TEMPERATURA (°C)", "grid": true, "gridColor": "#d9d9d9", "gridWidth": 1, "labelPadding": 8, "titlePadding": 4}}
  },
  "layer": [
   {"data": {"name": "ext"}, "mark": {"type": "area", "color": "#94AED4", "opacity": 1},
    "encoding": {"y2": {"field": "v2"}}},
   {"data": {"name": "precip"}, "mark": {"type": "line", "strokeWidth": 1.5},
    "encoding": {"color": {"datum": "Precipitación total (mm)",
     "scale": {"domain": ["T. exterior (ºC)", "T. aguas residuales urbanas (°C)", "Minimo T. en pilotes geotermicos (°C)", "Radiación solar global (kW/m²)", "Precipitación total (mm)", "T. agua del aljibe(°C)", "Minimo de T. en  sondas geotérmicas (°C)"],
      "range": ["#94AED4", "#1F3864", "#A9D18E", "#FFF2CC", "#2E75B6", "#ED7D31", "#646159"]},
     "legend": {"title": null, "orient": "none", "legendX": 35, "legendY": 443, "columns": 2}}}},
   {"data": {"name": "navy"}, "mark": {"type": "line", "strokeWidth": 2.5},
    "encoding": {"color": {"datum": "T. aguas residuales urbanas (°C)", "legend": {"title": null, "orient": "none", "legendX": 35, "legendY": 443, "columns": 2}}}},
   {"data": {"name": "green"}, "mark": {"type": "line", "strokeWidth": 2, "interpolate": "step-after"},
    "encoding": {"color": {"datum": "Minimo T. en pilotes geotermicos (°C)", "legend": {"title": null, "orient": "none", "legendX": 35, "legendY": 443, "columns": 2}}}},
   {"data": {"name": "gray"}, "mark": {"type": "line", "strokeWidth": 2.5, "interpolate": "step-after"},
    "encoding": {"color": {"datum": "Minimo de T. en  sondas geotérmicas (°C)", "legend": {"title": null, "orient": "none", "legendX": 35, "legendY": 443, "columns": 2}}}},
   {"data": {"name": "orange"}, "mark": {"type": "line", "strokeWidth": 2.2},
    "encoding": {"color": {"datum": "T. agua del aljibe(°C)", "legend": {"title": null, "orient": "none", "legendX": 35, "legendY": 443, "columns": 2}}}}
  ]}
],
"resolve": {"scale": {"y": "independent"}}
}
